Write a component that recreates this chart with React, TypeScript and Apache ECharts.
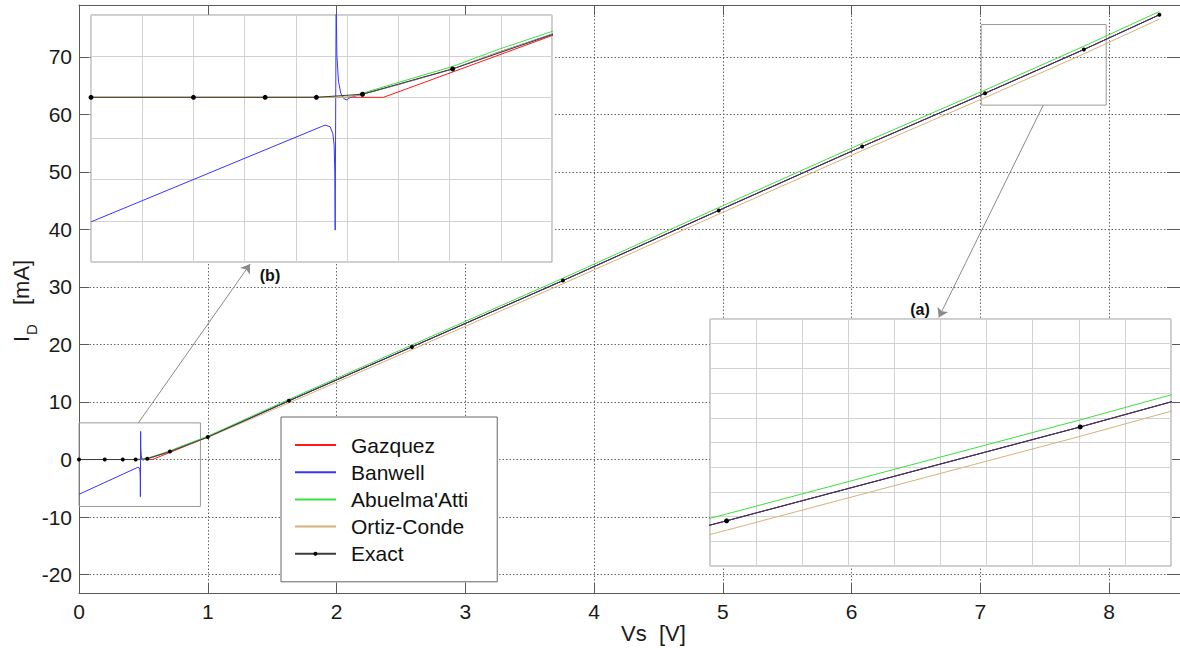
import { useEffect, useRef } from 'react';
import * as echarts from 'echarts';

// ---------- data ----------
const seriesNames = ['Gazquez', 'Banwell', "Abuelma'Atti", 'Ortiz-Conde', 'Exact'];
const seriesColors = ['#ff1a1a', '#3636ff', '#3ce03c', '#d6b27a', '#3c3c3c'];

const exactX = [0, 0.2, 0.34, 0.44, 0.53, 0.706, 1.0, 1.63, 2.585, 3.758, 4.968, 6.082, 7.036, 7.803, 8.39];
const exactY = [0, 0, 0, 0, 0.15, 1.38, 3.9, 10.2, 19.57, 31.1, 43.3, 54.4, 63.66, 71.26, 77.3];

const gazquezX = [0, 0.571, 0.9, 1.0, 1.63, 2.585, 3.758, 4.968, 6.082, 7.036, 7.803, 8.39];
const gazquezY = [0, 0, 3.0, 3.9, 10.2, 19.57, 31.1, 43.3, 54.4, 63.66, 71.26, 77.3];

const banwellX = [0, 0.45, 0.4571, 0.4669, 0.4721, 0.4747, 0.476, 0.4767, 0.4786, 0.48, 0.4832, 0.4877, 0.4943, 0.4995, 0.507, 0.53, 0.597, 0.706, 0.799, 0.9, 1.0, 1.63, 2.585, 3.758, 4.968, 6.082, 7.036, 7.803, 8.39];
const banwellY = [-6.05, -1.42, -1.35, -1.43, -1.76, -2.33, -3.63, -6.45, 4.9, 2.06, 0.76, 0.2, -0.08, -0.12, 0.01, 0.15, 0.6, 1.38, 2.22, 3.07, 3.9, 10.2, 19.57, 31.1, 43.3, 54.4, 63.66, 71.26, 77.3];

const abuelmaX = [0, 0.5, 0.53, 0.597, 0.706, 0.799, 0.9, 1.0, 1.63, 2.585, 3.758, 4.968, 6.082, 7.036, 7.803, 8.39];
const abuelmaY = [0, 0, 0.2, 0.7, 1.5, 2.36, 3.2, 4.05, 10.45, 19.9, 31.5, 43.8, 54.95, 64.21, 71.83, 77.87];

const ortizX = [0, 0.5, 0.53, 0.597, 0.706, 0.799, 0.9, 1.0, 1.63, 2.585, 3.758, 4.968, 6.082, 7.036, 7.803, 8.39];
const ortizY = [0, 0, 0.15, 0.6, 1.38, 2.22, 3.05, 3.83, 9.85, 19.1, 30.55, 42.65, 53.7, 62.9, 70.5, 76.55];

const mainXTicks = [0, 1, 2, 3, 4, 5, 6, 7, 8];
const mainYTicks = [-20, -10, 0, 10, 20, 30, 40, 50, 60, 70];

// zoom boxes in the main chart: [x0, y0, x1, y1]
const zoomBoxB = [0, -8.16, 0.943, 6.37];
const zoomBoxA = [7.006, 61.6, 7.977, 75.6];
// arrows: [fromX, fromY, toX, toY]
const arrowB = [0.461, 6.37, 1.329, 33.98];
const arrowA = [7.488, 61.6, 6.677, 24.7];

const FONT = 'Liberation Sans, Arial, Helvetica, sans-serif';

const pairs = (xs: number[], ys: number[]) => xs.map((x, i) => [x, ys[i]]);
const allData = [
  pairs(gazquezX, gazquezY),
  pairs(banwellX, banwellY),
  pairs(abuelmaX, abuelmaY),
  pairs(ortizX, ortizY),
  pairs(exactX, exactY),
];

export default function App() {
  const ref = useRef<HTMLDivElement>(null);

  useEffect(() => {
    if (!ref.current) return;
    const chart = echarts.init(ref.current, undefined, { renderer: 'svg' });

    const axisGray = '#5a5a5a';
    const mainX = (pos: 'bottom' | 'top') => ({
      type: 'value', gridIndex: 0, position: pos, min: 0, max: 8.55,
      axisLine: { show: true, onZero: false, lineStyle: { color: axisGray, width: 1 } },
      axisTick: { show: true, inside: true, length: 10, customValues: mainXTicks, lineStyle: { color: axisGray } },
      axisLabel: pos === 'bottom'
        ? { show: true, customValues: mainXTicks, fontSize: 21, color: '#1a1a1a', fontFamily: FONT, margin: 8 }
        : { show: false },
      splitLine: pos === 'bottom'
        ? { show: true, lineStyle: { color: '#666', width: 1, type: [1.5, 2] } }
        : { show: false },
      z: 0,
    });
    const mainY = (pos: 'left' | 'right') => ({
      type: 'value', gridIndex: 0, position: pos, min: -23.2, max: 79,
      axisLine: { show: true, onZero: false, lineStyle: { color: axisGray, width: 1 } },
      axisTick: { show: true, inside: true, length: pos === 'left' ? 10 : 13, customValues: mainYTicks, lineStyle: { color: axisGray } },
      axisLabel: pos === 'left'
        ? { show: true, customValues: mainYTicks, fontSize: 21, color: '#1a1a1a', fontFamily: FONT, margin: 7 }
        : { show: false },
      splitLine: pos === 'left'
        ? { show: true, lineStyle: { color: '#666', width: 1, type: [1.5, 2] } }
        : { show: false },
      z: 0,
    });
    const insetAxis = (gridIndex: number, min: number, max: number, interval: number) => ({
      type: 'value', gridIndex, min, max, interval,
      axisLine: { show: false },
      axisTick: { show: false },
      axisLabel: { show: false },
      splitLine: { show: true, lineStyle: { color: '#d2d2d2', width: 1 } },
      z: 6,
    });

    const series: any[] = [];
    seriesNames.forEach((name, i) => {
      const isExact = name === 'Exact';
      const base = {
        name,
        type: 'line',
        data: allData[i],
        color: isExact ? '#000' : seriesColors[i],
        lineStyle: { color: seriesColors[i], width: 1 },
        itemStyle: { color: isExact ? '#000' : seriesColors[i] },
        symbol: isExact ? 'circle' : 'none',
        showSymbol: isExact,
        symbolSize: 4,
        animation: false,
        silent: true,
      };
      const main: any = { ...base, xAxisIndex: 0, yAxisIndex: 0, z: 2 };
      if (isExact) {
        main.markArea = {
          silent: true,
          itemStyle: { color: 'rgba(0,0,0,0)', borderColor: '#9a9a9a', borderWidth: 1 },
          label: { show: false },
          data: [
            [{ coord: [zoomBoxB[0], zoomBoxB[1]] }, { coord: [zoomBoxB[2], zoomBoxB[3]] }],
            [{ coord: [zoomBoxA[0], zoomBoxA[1]] }, { coord: [zoomBoxA[2], zoomBoxA[3]] }],
          ],
        };
        main.markLine = {
          silent: true,
          symbol: ['none', 'arrow'],
          symbolSize: 9,
          label: { show: false },
          lineStyle: { color: '#8a8a8a', width: 1, type: 'solid' },
          data: [
            [{ coord: [arrowB[0], arrowB[1]] }, { coord: [arrowB[2], arrowB[3]] }],
            [{ coord: [arrowA[0], arrowA[1]] }, { coord: [arrowA[2], arrowA[3]] }],
          ],
        };
      }
      series.push(main);
      series.push({ ...base, xAxisIndex: 2, yAxisIndex: 2, z: 7, symbolSize: 5 });
      series.push({ ...base, xAxisIndex: 3, yAxisIndex: 3, z: 7, symbolSize: 5 });
    });

    const legendData = seriesNames.map((name) =>
      name === 'Exact'
        ? { name, itemStyle: { color: '#000' } }
        : { name, itemStyle: { opacity: 0 } }
    );

    const option: any = {
      animation: false,
      backgroundColor: '#fff',
      textStyle: { fontFamily: FONT },
      grid: [
        { left: 79, right: 0, top: 5, bottom: 55, containLabel: false },
        { left: 91, top: 15, width: 461, height: 247, show: true, backgroundColor: '#fff', borderColor: '#9a9a9a', borderWidth: 1, z: 5 },
        { left: 710, top: 319, width: 461, height: 247, show: true, backgroundColor: '#fff', borderColor: '#9a9a9a', borderWidth: 1, z: 5 },
      ],
      xAxis: [
        mainX('bottom'),
        mainX('top'),
        insetAxis(1, 0, 0.9, 0.1),
        insetAxis(2, 7, 8, 0.1),
      ],
      yAxis: [
        mainY('left'),
        mainY('right'),
        insetAxis(1, -8, 4, 2),
        insetAxis(2, 60, 80, 2),
      ],
      legend: {
        data: legendData,
        orient: 'vertical',
        left: 281,
        top: 417,
        padding: [17, 29, 17, 13],
        itemGap: 5.2,
        itemWidth: 41,
        itemHeight: 5,
        backgroundColor: '#fff',
        borderColor: '#666',
        borderWidth: 1,
        selectedMode: false,
        textStyle: { fontSize: 21, color: '#111', fontFamily: FONT, padding: [0, 0, 0, 10], lineHeight: 22 },
        z: 8,
      },
      graphic: [
        {
          type: 'text', left: 621, top: 622, z: 10,
          style: { text: 'Vs  [V]', fontSize: 22, fill: '#1a1a1a', fontFamily: FONT },
        },
        {
          type: 'group', x: 21, y: 342, rotation: Math.PI / 2, z: 10,
          children: [
            { type: 'text', x: 0, y: 0, style: { text: 'I', fontSize: 22, fill: '#1a1a1a', fontFamily: FONT, verticalAlign: 'middle', align: 'left' } },
            { type: 'text', x: 7, y: 10, style: { text: 'D', fontSize: 15, fill: '#1a1a1a', fontFamily: FONT, verticalAlign: 'middle', align: 'left' } },
            { type: 'text', x: 37, y: 0, style: { text: '[mA]', fontSize: 22, fill: '#1a1a1a', fontFamily: FONT, verticalAlign: 'middle', align: 'left' } },
          ],
        },
        {
          type: 'text', x: 920, y: 309, z: 10,
          style: { text: '(a)', fontSize: 16, fontWeight: 'bold', fill: '#111', fontFamily: FONT, align: 'center', verticalAlign: 'middle' },
        },
        {
          type: 'text', x: 270, y: 275, z: 10,
          style: { text: '(b)', fontSize: 16, fontWeight: 'bold', fill: '#111', fontFamily: FONT, align: 'center', verticalAlign: 'middle' },
        },
      ],
      series,
    };

    chart.setOption(option);
    return () => chart.dispose();
  }, []);

  return (
    <div
      ref={ref}
      style={{ position: 'fixed', left: 0, top: 0, width: 1180, height: 648, background: '#fff' }}
    />
  );
}
